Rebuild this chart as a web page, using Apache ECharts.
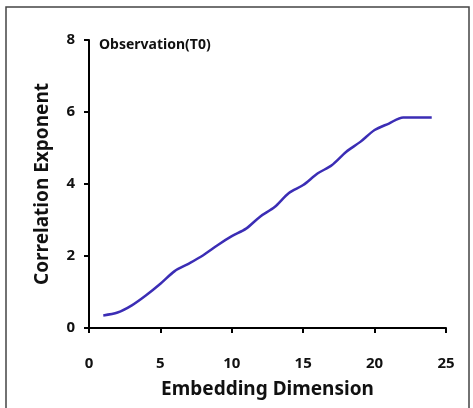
<!DOCTYPE html>
<html><head><meta charset="utf-8">
<script src="https://cdn.jsdelivr.net/npm/echarts@6/dist/echarts.min.js"></script>
<style>html,body{margin:0;padding:0;background:#fff}#c{width:473px;height:408px}</style>
</head><body><div id="c"></div>
<script>
const dims = [1,2,3,4,5,6,7,8,9,10,11,12,13,14,15,16,17,18,19,20,21,22,23,24];
const exponent = [0.35,0.43,0.63,0.91,1.23,1.58,1.79,2.02,2.30,2.55,2.76,3.10,3.36,3.75,3.97,4.29,4.52,4.89,5.17,5.50,5.68,5.85,5.85,5.85];
const chart = echarts.init(document.getElementById('c'));
const F = "'Noto Sans',sans-serif";
chart.setOption({
  animation:false,
  graphic:[
    {type:'rect',shape:{x:6,y:7,width:463,height:420},style:{fill:'none',stroke:'#444',lineWidth:1.5}},
    {type:'text',left:99,top:38,style:{text:'Observation(T0)',font:'bold 14px '+F,fill:'#111'}}
  ],
  grid:{left:89,right:27,top:40,bottom:80},
  xAxis:{type:'value',min:0,max:25,interval:5,
    name:'Embedding Dimension',nameLocation:'middle',nameGap:52,
    nameTextStyle:{fontFamily:F,fontWeight:'bold',fontSize:19,color:'#111'},
    axisLine:{lineStyle:{color:'#000',width:2}},axisTick:{inside:false,length:5,lineStyle:{color:'#000',width:2}},
    axisLabel:{margin:28,fontFamily:F,fontWeight:'bold',fontSize:15,color:'#111'},splitLine:{show:false}},
  yAxis:{type:'value',min:0,max:8,interval:2,
    name:'Correlation Exponent',nameLocation:'middle',nameGap:37,
    nameTextStyle:{fontFamily:F,fontWeight:'bold',fontSize:19,color:'#111'},
    axisLine:{show:true,lineStyle:{color:'#000',width:2}},axisTick:{show:true,length:5,lineStyle:{color:'#000',width:2}},
    axisLabel:{margin:14,fontFamily:F,fontWeight:'bold',fontSize:15,color:'#111'},splitLine:{show:false}},
  series:[{type:'line',data:dims.map((d,i)=>[d,exponent[i]]),smooth:0.3,showSymbol:false,
    lineStyle:{color:'#3b2db5',width:2.5}}]
});
</script></body></html>
